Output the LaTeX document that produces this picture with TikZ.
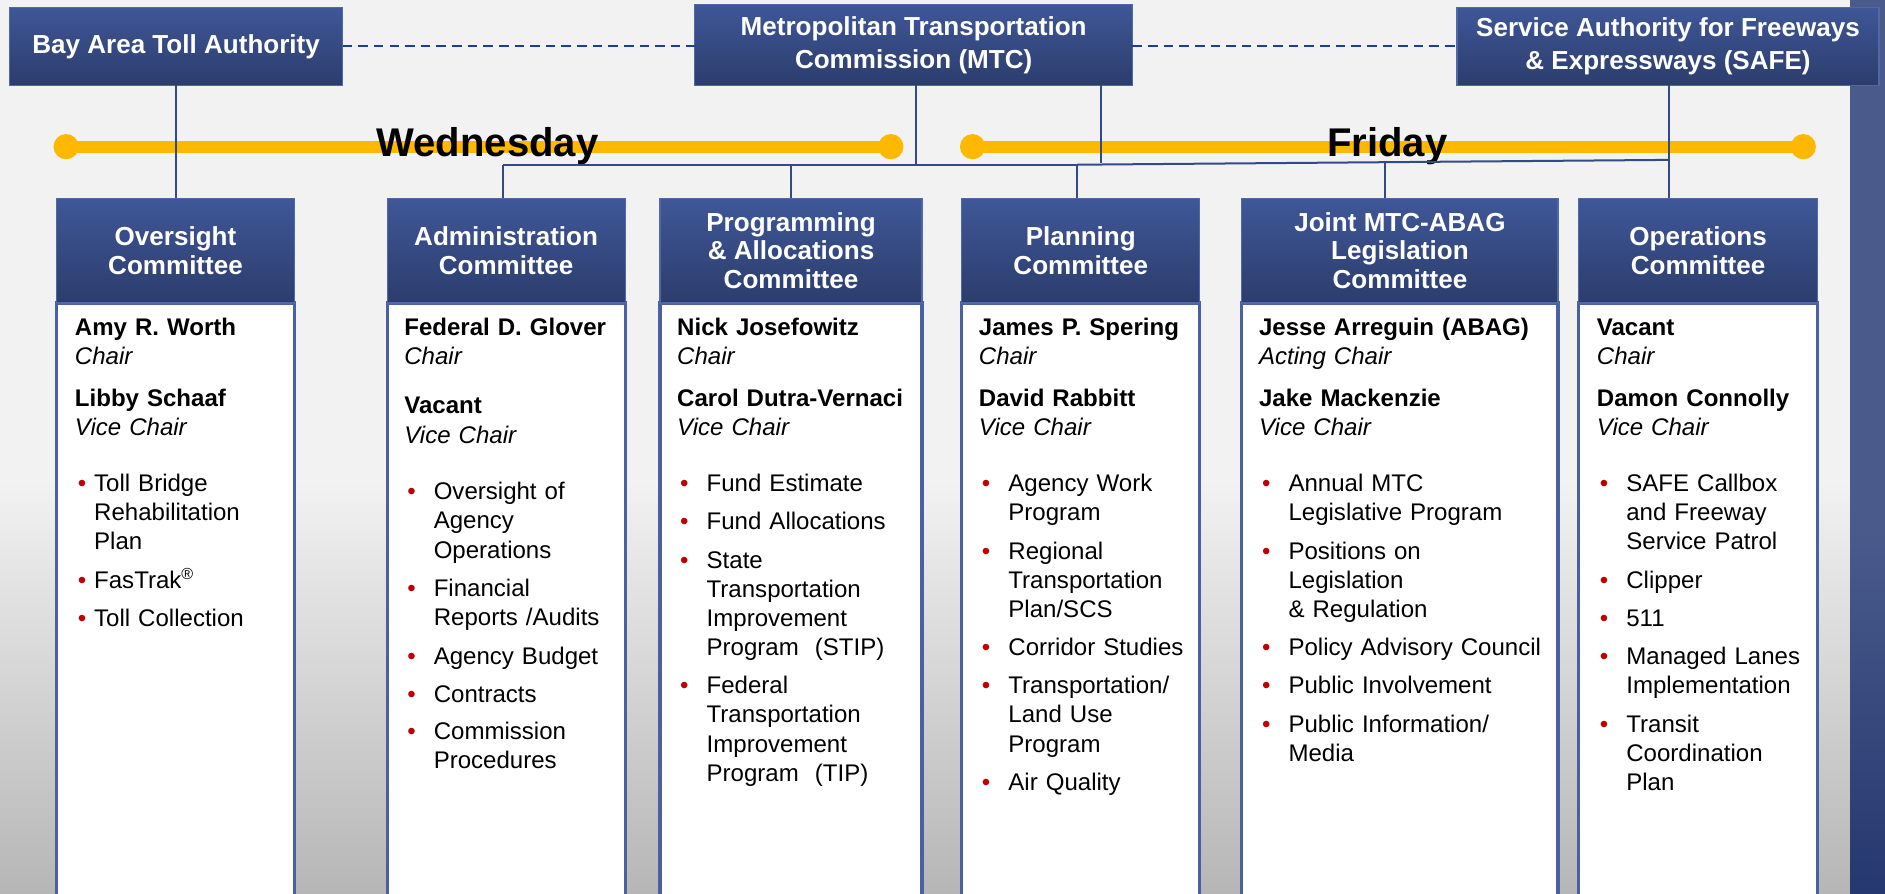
\documentclass[tikz,border=0pt]{standalone}
\usepackage{fontspec}
\setmainfont{Liberation Sans}
\definecolor{bgtop}{HTML}{F2F2F2}
\definecolor{bgbot}{HTML}{B6B6B6}
\definecolor{hdrtop}{HTML}{3F5798}
\definecolor{hdrbot}{HTML}{2C3D6C}
\definecolor{hdrline}{HTML}{5068A8}
\definecolor{boxline}{HTML}{4B60A0}
\definecolor{conn}{HTML}{34498A}
\definecolor{dashc}{HTML}{1F3E93}
\definecolor{gold}{HTML}{FFB800}
\definecolor{bulred}{HTML}{C00000}
\definecolor{striptop}{HTML}{4A5A8B}
\definecolor{stripbot}{HTML}{25386F}
\newlength\bind
\newcommand\bu{\makebox[\bind][l]{\hspace{1.5pt}\textcolor{bulred}{\textbullet}}}
\newcommand\bc{\hspace*{\bind}}
\begin{document}
\begin{tikzpicture}[x=0.6pt,y=-0.6pt,
  sz/.style 2 args={minimum width={#1*0.6pt}, minimum height={#2*0.6pt}},
  topbox/.style={draw=hdrline, line width=0.6pt, top color=hdrtop, bottom color=hdrbot,
    text=white, font=\fontsize{13}{16.2}\selectfont\bfseries, align=center, inner sep=0pt, outer sep=0pt},
  hdr/.style={draw=hdrline, line width=0.6pt, top color=hdrtop, bottom color=hdrbot,
    text=white, font=\fontsize{13}{14.1}\selectfont\bfseries, align=center, inner sep=0pt, outer sep=0pt},
  cbox/.style={draw=boxline, line width=1.6pt, fill=white, inner sep=0pt, outer sep=0pt},
  body/.style={anchor=base west, inner sep=0pt, text width=175pt, align=left,
    font=\fontsize{12}{14.6}\selectfont},
  conn/.style={draw=conn, line width=1pt},
  dashline/.style={draw=dashc, line width=0.9pt, dash pattern=on 4.8pt off 3pt},
  daytxt/.style={font=\fontsize{20}{24}\selectfont\bfseries, text=black, inner sep=0pt, anchor=base}
]
\clip (0,0) rectangle (1568,743);
% background
\fill[bgtop] (0,0) rectangle (1568,743);
\shade[top color=bgtop, bottom color=bgbot] (0,400) rectangle (1568,743);
\fill[striptop] (1539,0) rectangle (1568,743);
\shade[top color=striptop, bottom color=stripbot] (1539,440) rectangle (1568,743);

% timelines
\coordinate (wl) at (55,122);
\coordinate (wr) at (741,122);
\coordinate (fl) at (809,122);
\coordinate (fr) at (1500,122);
\draw[gold, line width=6pt] (wl) -- (wr);
\draw[gold, line width=6pt] (fl) -- (fr);
\fill[gold] (wl) circle[radius=6.3pt];
\fill[gold] (wr) circle[radius=6.3pt];
\fill[gold] (fl) circle[radius=6.3pt];
\fill[gold] (fr) circle[radius=6.3pt];
\node[daytxt] (wed) at (405.5,130) {Wednesday};
\node[daytxt] (fri) at (1154,130) {Friday};

% top boxes
\node[topbox, sz={277}{65}] (bata) at (146.5,38.5) {Bay Area Toll Authority};
\node[topbox, sz={364}{67}] (mtc) at (760,37.5) {Metropolitan Transportation\\Commission (MTC)};
\node[topbox, sz={351}{65}] (safe) at (1387.5,38.5) {Service Authority for Freeways\\\& Expressways (SAFE)};

\draw[dashline] (bata.east) -- (bata.east -| mtc.west);
\draw[dashline] (mtc.east |- safe.west) -- (safe.west);

% content boxes
\node[cbox, sz={198}{520}, anchor=north] (ovsB) at (146,252) {};
\node[cbox, sz={198}{520}, anchor=north] (admB) at (421,252) {};
\node[cbox, sz={218}{520}, anchor=north] (prgB) at (658,252) {};
\node[cbox, sz={198}{520}, anchor=north] (plnB) at (899,252) {};
\node[cbox, sz={263}{520}, anchor=north] (jntB) at (1164.5,252) {};
\node[cbox, sz={199}{520}, anchor=north] (opsB) at (1412.5,252) {};

% committee headers
\node[hdr, sz={198}{87}] (ovs) at (146,208.5) {Oversight\\Committee};
\node[hdr, sz={198}{87}] (adm) at (421,208.5) {Administration\\Committee};
\node[hdr, sz={218}{87}] (prg) at (658,208.5) {Programming\\\& Allocations\\Committee};
\node[hdr, sz={198}{87}] (pln) at (899,208.5) {Planning\\Committee};
\node[hdr, sz={263}{87}] (jnt) at (1164.5,208.5) {Joint MTC-ABAG\\Legislation\\Committee};
\node[hdr, sz={199}{87}] (ops) at (1412.5,208.5) {Operations\\Committee};

% connectors
\coordinate (b1) at (418,137);
\coordinate (b2) at (658,137);
\coordinate (b3) at (896,137);
\coordinate (m1) at (762,137);
\coordinate (m2) at (916,136);
\coordinate (b4) at (1152,135);
\coordinate (b5) at (1388,133);
\draw[conn] (bata.south) -- (bata.south |- ovs.north);
\draw[conn] (m1 |- mtc.south) -- (m1);
\draw[conn] (m2 |- mtc.south) -- (m2);
\draw[conn] (b1) -- (b3);
\draw[conn] (b3) -- (b5);
\draw[conn] (b1) -- (b1 |- adm.north);
\draw[conn] (b2) -- (b2 |- prg.north);
\draw[conn] (b3) -- (b3 |- pln.north);
\draw[conn] (b4) -- (b4 |- jnt.north);
\draw[conn] (b5 |- safe.south) -- (b5 |- ops.north);

% texts
\node[body] (ovsT) at (62,279) {\setlength\bind{9.6pt}%
\textbf{Amy R. Worth}\\
\textit{Chair}\\[6.4pt]
\textbf{Libby Schaaf}\\
\textit{Vice Chair}\\[13pt]
\bu Toll Bridge\\
\bc Rehabilitation\\
\bc Plan\\[4.6pt]
\bu FasTrak\textsuperscript{®}\\[4.6pt]
\bu Toll Collection};

\node[body] (admT) at (336,279) {\setlength\bind{14.7pt}%
\textbf{Federal D. Glover}\\
\textit{Chair}\\[10pt]
\textbf{Vacant}\\
\textit{Vice Chair}\\[13.6pt]
\bu Oversight of\\
\bc Agency\\
\bc Operations\\[4.6pt]
\bu Financial\\
\bc Reports /Audits\\[4.6pt]
\bu Agency Budget\\[4.2pt]
\bu Contracts\\[4.2pt]
\bu Commission\\
\bc Procedures};

\node[body] (prgT) at (563,279) {\setlength\bind{14.7pt}%
\textbf{Nick Josefowitz}\\
\textit{Chair}\\[6.4pt]
\textbf{Carol Dutra-Vernaci}\\
\textit{Vice Chair}\\[13pt]
\bu Fund Estimate\\[4.6pt]
\bu Fund Allocations\\[4.6pt]
\bu State\\
\bc Transportation\\
\bc Improvement\\
\bc Program~~(STIP)\\[4.2pt]
\bu Federal\\
\bc Transportation\\
\bc Improvement\\
\bc Program~~(TIP)};

\node[body] (plnT) at (814,279) {\setlength\bind{14.7pt}%
\textbf{James P. Spering}\\
\textit{Chair}\\[6.4pt]
\textbf{David Rabbitt}\\
\textit{Vice Chair}\\[13pt]
\bu Agency Work\\
\bc Program\\[4.6pt]
\bu Regional\\
\bc Transportation\\
\bc Plan/SCS\\[4.6pt]
\bu Corridor Studies\\[4.2pt]
\bu Transportation/\\
\bc Land Use\\
\bc Program\\[4.6pt]
\bu Air Quality};

\node[body] (jntT) at (1047,279) {\setlength\bind{14.7pt}%
\textbf{Jesse Arreguin (ABAG)}\\
\textit{Acting Chair}\\[6.4pt]
\textbf{Jake Mackenzie}\\
\textit{Vice Chair}\\[13pt]
\bu Annual MTC\\
\bc Legislative Program\\[4.6pt]
\bu Positions on\\
\bc Legislation\\
\bc \& Regulation\\[4.6pt]
\bu Policy Advisory Council\\[4.2pt]
\bu Public Involvement\\[4.6pt]
\bu Public Information/\\
\bc Media};

\node[body] (opsT) at (1328,279) {\setlength\bind{14.7pt}%
\textbf{Vacant}\\
\textit{Chair}\\[6.4pt]
\textbf{Damon Connolly}\\
\textit{Vice Chair}\\[13pt]
\bu SAFE Callbox\\
\bc and Freeway\\
\bc Service Patrol\\[4.6pt]
\bu Clipper\\[4.6pt]
\bu 511\\[4.2pt]
\bu Managed Lanes\\
\bc Implementation\\[4.6pt]
\bu Transit\\
\bc Coordination\\
\bc Plan};
\end{tikzpicture}
\end{document}
